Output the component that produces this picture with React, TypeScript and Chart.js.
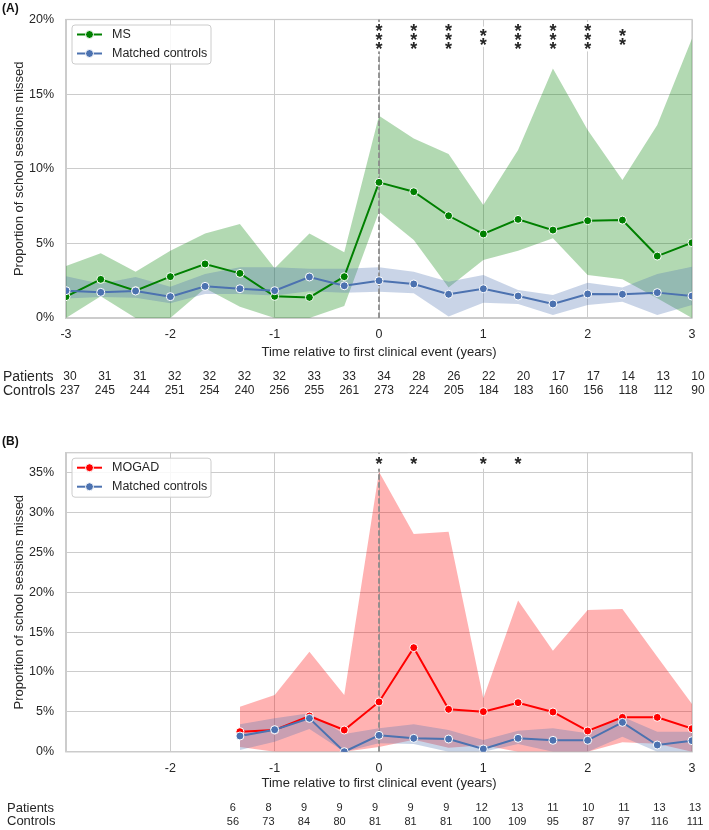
import React, { useEffect, useRef } from 'react';
import { Chart, registerables } from 'chart.js';

Chart.register(...registerables);

// ---------------- Data ----------------
const X_TITLE = 'Time relative to first clinical event (years)';
const Y_TITLE = 'Proportion of school sessions missed';
const CTRL_NAME = 'Matched controls';

// Panel A (MS)
const TIME_A = [-3, -2.667, -2.333, -2, -1.667, -1.333, -1, -0.667, -0.333, 0, 0.333, 0.667, 1, 1.333, 1.667, 2, 2.333, 2.667, 3];
const MS_MEAN = [1.43, 2.59, 1.83, 2.77, 3.62, 2.99, 1.45, 1.38, 2.77, 9.09, 8.46, 6.85, 5.63, 6.61, 5.89, 6.52, 6.56, 4.15, 5.04];
const MS_LOW = [0, 1.45, 0, 0, 2.0, 0.76, 0, 0, 0.8, 7.12, 5.22, 2.05, 3.88, 4.51, 5.34, 2.88, 2.59, 1.32, 0];
const MS_HIGH = [3.48, 4.33, 3.1, 4.5, 5.67, 6.3, 3.33, 5.67, 4.4, 13.55, 12.03, 10.98, 7.57, 11.25, 16.72, 12.59, 9.24, 12.93, 18.73];
const CTRL_A_MEAN = [1.83, 1.72, 1.81, 1.43, 2.12, 1.96, 1.83, 2.75, 2.16, 2.5, 2.28, 1.59, 1.96, 1.47, 0.94, 1.61, 1.59, 1.7, 1.47];
const CTRL_A_LOW = [1.3, 1.4, 1.35, 0.98, 1.6, 1.6, 1.5, 1.8, 1.7, 1.76, 1.65, 0.1, 1.03, 0.94, 0.2, 0.87, 1.09, 0.2, 0.87];
const CTRL_A_HIGH = [2.8, 2.3, 2.75, 2.1, 2.95, 3.4, 3.4, 3.3, 3.3, 3.4, 3.1, 2.43, 2.88, 1.88, 1.54, 2.37, 2.05, 2.95, 3.44];
const PATIENTS_A = [30, 31, 31, 32, 32, 32, 32, 33, 33, 34, 28, 26, 22, 20, 17, 17, 14, 13, 10];
const CONTROLS_A = [237, 245, 244, 251, 254, 240, 256, 255, 261, 273, 224, 205, 184, 183, 160, 156, 118, 112, 90];
const STAR_T_A = [0, 0.333, 0.667, 1, 1.333, 1.667, 2, 2.333];
const STAR_N_A = [3, 3, 3, 2, 3, 3, 3, 2];

// Panel B (MOGAD)
const TIME_B = [-1.333, -1, -0.667, -0.333, 0, 0.333, 0.667, 1, 1.333, 1.667, 2, 2.333, 2.667, 3];
const MOGAD_MEAN = [2.51, 2.72, 4.48, 2.72, 6.24, 13.05, 5.32, 5.02, 6.15, 4.98, 2.6, 4.31, 4.31, 2.89];
const MOGAD_LOW = [0.6, 0, 0, 0, 0.6, 1.5, 0.5, 0.8, 0, 0, 0, 1.2, 1.0, 0];
const MOGAD_HIGH = [5.65, 7.11, 12.55, 7.11, 35.1, 27.3, 27.6, 6.7, 18.95, 12.67, 17.78, 17.9, 11.9, 5.98];
const CTRL_B_MEAN = [1.97, 2.76, 4.18, 0, 2.05, 1.68, 1.59, 0.34, 1.68, 1.43, 1.43, 3.68, 0.84, 1.38];
const CTRL_B_LOW = [0.2, 1.26, 2.85, 0, 1.05, 0.97, 0, 0, 0.97, 0, 0, 1.88, 0, 0];
const CTRL_B_HIGH = [3.43, 4.18, 4.81, 2.22, 2.93, 3.43, 2.72, 1.47, 2.64, 2.93, 2.3, 4.39, 2.51, 2.51];
const PATIENTS_B = [6, 8, 9, 9, 9, 9, 9, 12, 13, 11, 10, 11, 13, 13];
const CONTROLS_B = [56, 73, 84, 80, 81, 81, 81, 100, 109, 95, 87, 97, 116, 111];
const STAR_T_B = [0, 0.333, 1, 1.333];
const STAR_N_B = [1, 1, 1, 1];

// ---------------- Styles ----------------
const FONT = '"Liberation Sans", Arial, Helvetica, sans-serif';
const TEXT = '#262626';
const GRID = '#cccccc';
const CTRL_COLOR = '#4c72b0';
const CTRL_BAND = 'rgba(76,114,176,0.3)';

interface Panel {
  tag: string;
  tagY: number;
  height: number;
  plotTop: number;
  plotBottom: number;
  yMax: number;
  hideFirstX: boolean;
  xTitlePad: number;
  times: number[];
  pName: string;
  pColor: string;
  pBand: string;
  pMean: number[];
  pLow: number[];
  pHigh: number[];
  cMean: number[];
  cLow: number[];
  cHigh: number[];
  patients: number[];
  controls: number[];
  starT: number[];
  starN: number[];
  starY: number;
  starPad: number;
  rowY: [number, number];
  rowLabelX: number;
  rowLabelSize: number;
  numSize: number;
  numOffset: [number, number];
}

const PANEL_A: Panel = {
  tag: '(A)', tagY: 8.5, height: 400, plotTop: 19.5, plotBottom: 318, yMax: 20, hideFirstX: false, xTitlePad: 40,
  times: TIME_A, pName: 'MS', pColor: '#008000', pBand: 'rgba(0,128,0,0.3)',
  pMean: MS_MEAN, pLow: MS_LOW, pHigh: MS_HIGH, cMean: CTRL_A_MEAN, cLow: CTRL_A_LOW, cHigh: CTRL_A_HIGH,
  patients: PATIENTS_A, controls: CONTROLS_A, starT: STAR_T_A, starN: STAR_N_A, starY: 18.85, starPad: 5.5,
  rowY: [377, 391], rowLabelX: 3, rowLabelSize: 14, numSize: 12, numOffset: [4, 6],
};

const PANEL_B: Panel = {
  tag: '(B)', tagY: 41.7, height: 430, plotTop: 52.7, plotBottom: 351.7, yMax: 37.5, hideFirstX: true, xTitlePad: 39,
  times: TIME_B, pName: 'MOGAD', pColor: '#ff0000', pBand: 'rgba(255,0,0,0.3)',
  pMean: MOGAD_MEAN, pLow: MOGAD_LOW, pHigh: MOGAD_HIGH, cMean: CTRL_B_MEAN, cLow: CTRL_B_LOW, cHigh: CTRL_B_HIGH,
  patients: PATIENTS_B, controls: CONTROLS_B, starT: STAR_T_B, starN: STAR_N_B, starY: 36.5, starPad: 8,
  rowY: [408, 421.7], rowLabelX: 7, rowLabelSize: 13, numSize: 11, numOffset: [-7, 3],
};

function extrasPlugin(p: Panel) {
  return {
    id: 'extras',
    beforeDatasetsDraw(chart: any) {
      const { ctx, chartArea: a } = chart;
      ctx.save();
      ctx.strokeStyle = GRID;
      ctx.lineWidth = 1.25;
      ctx.strokeRect(a.left, a.top, a.right - a.left, a.bottom - a.top);
      ctx.restore();
    },
    beforeDatasetDraw(chart: any, args: any) {
      if (args.index !== 4) return;
      const { ctx, chartArea: a, scales } = chart;
      const x = scales.x.getPixelForValue(0);
      ctx.save();
      ctx.strokeStyle = '#8c8c8c';
      ctx.lineWidth = 1.8;
      ctx.setLineDash([5.5, 2.5]);
      ctx.beginPath();
      ctx.moveTo(x, a.bottom);
      ctx.lineTo(x, a.top);
      ctx.stroke();
      ctx.restore();
    },
    afterDraw(chart: any) {
      const { ctx, chartArea: a, scales } = chart;
      const xs = scales.x;
      const ys = scales.y;
      ctx.save();

      // significance stars with white backing boxes
      ctx.font = `bold 18px ${FONT}`;
      ctx.textAlign = 'center';
      ctx.textBaseline = 'alphabetic';
      const m = ctx.measureText('*');
      const asc = m.actualBoundingBoxAscent;
      const desc = m.actualBoundingBoxDescent;
      const sp = 9.25;
      p.starT.forEach((t, i) => {
        const n = p.starN[i];
        const cx = xs.getPixelForValue(t);
        const cy = ys.getPixelForValue(p.starY);
        const first = cy - ((n - 1) * sp) / 2;
        const bt = Math.max(a.top + 1, first - p.starPad);
        const bb = first + (n - 1) * sp + p.starPad;
        ctx.fillStyle = '#ffffff';
        ctx.fillRect(cx - 6, bt, 12, bb - bt);
        ctx.fillStyle = TEXT;
        for (let k = 0; k < n; k++) {
          const y = first + k * sp;
          ctx.fillText('*', cx, y + (asc - desc) / 2);
        }
      });

      // legend
      const lx = a.left + 6;
      const ly = a.top + 5.5;
      const lw = 139;
      const lh = 39;
      ctx.beginPath();
      if ((ctx as any).roundRect) (ctx as any).roundRect(lx, ly, lw, lh, 3);
      else ctx.rect(lx, ly, lw, lh);
      ctx.fillStyle = 'rgba(255,255,255,0.85)';
      ctx.fill();
      ctx.strokeStyle = GRID;
      ctx.lineWidth = 1;
      ctx.stroke();
      const entries: [string, string][] = [
        [p.pName, p.pColor],
        [CTRL_NAME, CTRL_COLOR],
      ];
      entries.forEach(([name, color], k) => {
        const y = ly + 9.5 + k * 19;
        ctx.strokeStyle = color;
        ctx.lineWidth = 2;
        ctx.beginPath();
        ctx.moveTo(lx + 5, y);
        ctx.lineTo(lx + 30, y);
        ctx.stroke();
        ctx.beginPath();
        ctx.arc(lx + 17.5, y, 4, 0, Math.PI * 2);
        ctx.fillStyle = color;
        ctx.fill();
        ctx.strokeStyle = '#ffffff';
        ctx.lineWidth = 1;
        ctx.stroke();
        ctx.fillStyle = TEXT;
        ctx.font = `12.5px ${FONT}`;
        ctx.textAlign = 'left';
        ctx.textBaseline = 'middle';
        ctx.fillText(name, lx + 40, y);
      });

      // counts table
      ctx.fillStyle = TEXT;
      ctx.textBaseline = 'middle';
      ctx.textAlign = 'left';
      ctx.font = `${p.rowLabelSize}px ${FONT}`;
      ctx.fillText('Patients', p.rowLabelX, p.rowY[0]);
      ctx.fillText('Controls', p.rowLabelX, p.rowY[1]);
      ctx.font = `${p.numSize}px ${FONT}`;
      ctx.textAlign = 'center';
      const n = p.times.length;
      p.times.forEach((t, i) => {
        const off = p.numOffset[0] + (p.numOffset[1] - p.numOffset[0]) * (i / (n - 1));
        const x = xs.getPixelForValue(t) + off;
        ctx.fillText(String(p.patients[i]), x, p.rowY[0]);
        ctx.fillText(String(p.controls[i]), x, p.rowY[1]);
      });

      // panel tag
      ctx.font = `bold 12px ${FONT}`;
      ctx.textAlign = 'left';
      ctx.fillStyle = '#111111';
      ctx.fillText(p.tag, 2, p.tagY);
      ctx.restore();
    },
  };
}

function buildConfig(p: Panel): any {
  const pts = (ysArr: number[]) => p.times.map((t, i) => ({ x: t, y: ysArr[i] }));
  const band = (ysArr: number[], color: string, fill: any, order: number) => ({
    data: pts(ysArr),
    borderWidth: 0,
    borderColor: 'rgba(0,0,0,0)',
    pointRadius: 0,
    pointHoverRadius: 0,
    fill,
    backgroundColor: color,
    order,
    tension: 0,
  });
  const line = (label: string, ysArr: number[], color: string, order: number) => ({
    label,
    data: pts(ysArr),
    borderColor: color,
    backgroundColor: color,
    borderWidth: 2,
    pointRadius: 4,
    pointHoverRadius: 4,
    pointBackgroundColor: color,
    pointBorderColor: '#ffffff',
    pointBorderWidth: 1,
    fill: false,
    order,
    tension: 0,
  });
  const tickFont = { family: FONT, size: 12.5 };
  const titleFont = { family: FONT, size: 13, lineHeight: 1.2 };
  return {
    type: 'line',
    data: {
      datasets: [
        band(p.pLow, p.pBand, false, 3),
        band(p.pHigh, p.pBand, '-1', 3),
        band(p.cLow, CTRL_BAND, false, 2),
        band(p.cHigh, CTRL_BAND, '-1', 2),
        line(p.pName, p.pMean, p.pColor, 1),
        line(CTRL_NAME, p.cMean, CTRL_COLOR, 0),
      ],
    },
    options: {
      responsive: false,
      maintainAspectRatio: false,
      animation: false,
      events: [],
      layout: { padding: { left: 0, right: 17, top: p.plotTop, bottom: 0 } },
      plugins: { legend: { display: false }, tooltip: { enabled: false } },
      scales: {
        x: {
          type: 'linear',
          min: -3,
          max: 3,
          ticks: {
            stepSize: 1,
            autoSkip: false,
            maxRotation: 0,
            padding: 9,
            color: TEXT,
            font: tickFont,
            callback: (v: number) => (p.hideFirstX && v === -3 ? '' : String(v)),
          },
          grid: { color: GRID, lineWidth: 1, drawTicks: false },
          border: { color: GRID, width: 1.25 },
          title: { display: true, text: X_TITLE, color: TEXT, font: titleFont, padding: { top: 0, bottom: p.xTitlePad } },
          afterFit: (s: any) => {
            s.height = p.height - p.plotBottom;
          },
        },
        y: {
          type: 'linear',
          min: 0,
          max: p.yMax,
          ticks: {
            stepSize: 5,
            padding: 12,
            color: TEXT,
            font: tickFont,
            callback: (v: number) => `${v}%`,
          },
          afterBuildTicks: (s: any) => {
            s.ticks = s.ticks.filter((t: any) => Math.abs(t.value % 5) < 1e-9);
          },
          grid: { color: GRID, lineWidth: 1, drawTicks: false },
          border: { color: GRID, width: 1.25 },
          title: { display: true, text: Y_TITLE, color: TEXT, font: titleFont, padding: { top: 11.2, bottom: 0 } },
          afterFit: (s: any) => {
            s.width = 66;
          },
        },
      },
    },
    plugins: [extrasPlugin(p)],
  };
}

function PanelChart({ p }: { p: Panel }) {
  const ref = useRef<HTMLCanvasElement>(null);
  useEffect(() => {
    if (!ref.current) return;
    const chart = new Chart(ref.current, buildConfig(p));
    return () => chart.destroy();
  }, []);
  return <canvas ref={ref} width={709} height={p.height} style={{ display: 'block', width: 709, height: p.height }} />;
}

export default function App() {
  return (
    <div style={{ position: 'absolute', left: 0, top: 0, width: 709, height: 830, background: '#ffffff' }}>
      <PanelChart p={PANEL_A} />
      <PanelChart p={PANEL_B} />
    </div>
  );
}
